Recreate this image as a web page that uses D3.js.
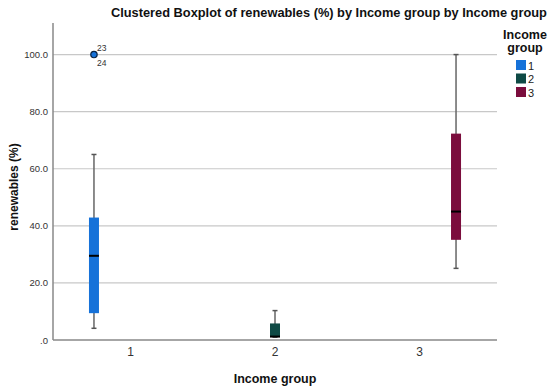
<!DOCTYPE html>
<html><head><meta charset="utf-8">
<script src="https://cdn.jsdelivr.net/npm/d3@7"></script>
<style>body{margin:0;background:#fff}svg{display:block;font-family:"Liberation Sans",Arial,sans-serif}</style>
</head><body><svg id="c" width="550" height="391"></svg>
<script>
const categories = ["1","2","3"];
const groups = ["1","2","3"];
const colors = ["#1672d9","#0f4a45","#7b0d3d"];
const boxCategory = ["1","2","3"];
const boxGroup = ["1","2","3"];
const whiskerLow = [4.1, 1.0, 25.1];
const q1 = [9.4, 1.2, 35.1];
const median = [29.5, 1.2, 45.0];
const q3 = [42.9, 5.8, 72.3];
const whiskerHigh = [65.0, 10.3, 100.0];
const outlierCategory = ["1"];
const outlierGroup = ["1"];
const outlierValue = [100.0];
const outlierLabels = [["23","24"]];
const yTicks = [0,20,40,60,80,100];

const svg = d3.select("#c");
const L=53, R=497, T=23, B=340;
const y = d3.scaleLinear().domain([0,100.2]).range([B, 54]);
const x = d3.scaleBand().domain(categories).range([L,R]).paddingOuter(0.036).paddingInner(0);
const xs = d3.scalePoint().domain(groups).range([0,x.bandwidth()]).padding(0.98);
const bw = 10;

svg.append("g").selectAll("line").data(yTicks.filter(d=>d>0)).join("line")
  .attr("x1",L).attr("x2",R).attr("y1",d=>y(d)).attr("y2",d=>y(d))
  .attr("stroke","#c8c8c8").attr("stroke-width",1.2);

const ya = d3.axisLeft(y).tickValues(yTicks).tickSize(0).tickPadding(5)
  .tickFormat(d=> d===0 ? ".0" : d3.format(".1f")(d));
const gy = svg.append("g").attr("transform",`translate(${L},0)`).call(ya);
gy.select(".domain").remove();
gy.selectAll("text").attr("font-size",9.5).attr("fill","#333");
svg.append("line").attr("x1",L).attr("x2",L).attr("y1",T).attr("y2",B).attr("stroke","#888").attr("stroke-width",1.5);

const xa = d3.axisBottom(x).tickSize(0).tickPadding(7);
const gx = svg.append("g").attr("transform",`translate(0,${B})`).call(xa);
gx.select(".domain").remove();
gx.selectAll("text").attr("font-size",12).attr("fill","#333");
svg.append("line").attr("x1",L).attr("x2",R).attr("y1",B).attr("y2",B).attr("stroke","#888").attr("stroke-width",1.5);

const boxes = boxCategory.map((c,i)=>({c, g:boxGroup[i], lo:whiskerLow[i], q1:q1[i], med:median[i], q3:q3[i], hi:whiskerHigh[i]}));
const bg = svg.append("g").selectAll("g").data(boxes).join("g")
  .attr("transform",d=>`translate(${x(d.c)+xs(d.g)},0)`);
bg.append("line").attr("x1",0).attr("x2",0).attr("y1",d=>y(d.lo)).attr("y2",d=>y(d.hi))
  .attr("stroke","#666").attr("stroke-width",1.5);
bg.append("line").attr("x1",-2.5).attr("x2",2.5).attr("y1",d=>y(d.hi)).attr("y2",d=>y(d.hi)).attr("stroke","#555").attr("stroke-width",1.5);
bg.append("line").attr("x1",-2.5).attr("x2",2.5).attr("y1",d=>y(d.lo)).attr("y2",d=>y(d.lo)).attr("stroke","#555").attr("stroke-width",1.5);
bg.append("rect").attr("x",-bw/2).attr("width",bw).attr("y",d=>y(d.q3)).attr("height",d=>y(d.q1)-y(d.q3))
  .attr("fill",d=>colors[groups.indexOf(d.g)]);
bg.append("line").attr("x1",-bw/2).attr("x2",bw/2).attr("y1",d=>y(d.med)).attr("y2",d=>y(d.med)).attr("stroke","#000").attr("stroke-width",2);

const outs = outlierCategory.map((c,i)=>({c,g:outlierGroup[i],v:outlierValue[i],lab:outlierLabels[i]}));
const og = svg.append("g").selectAll("g").data(outs).join("g")
  .attr("transform",d=>`translate(${x(d.c)+xs(d.g)},${y(d.v)})`);
og.append("circle").attr("r",3.2).attr("fill",d=>colors[groups.indexOf(d.g)]).attr("stroke","#0b2340").attr("stroke-width",1.2);
og.append("text").attr("x",3).attr("y",-4).attr("font-size",8.5).attr("fill","#333").text(d=>d.lab[0]);
og.append("text").attr("x",3).attr("y",11).attr("font-size",8.5).attr("fill","#333").text(d=>d.lab[1]);

svg.append("text").attr("x",111).attr("y",17).attr("font-size",12.8).attr("font-weight","bold").attr("fill","#111")
  .text("Clustered Boxplot of renewables (%) by Income group by Income group");
svg.append("text").attr("transform","translate(18,187) rotate(-90)").attr("text-anchor","middle")
  .attr("font-size",12).attr("font-weight","bold").attr("fill","#111").text("renewables (%)");
svg.append("text").attr("x",275).attr("y",383).attr("text-anchor","middle")
  .attr("font-size",12.5).attr("font-weight","bold").attr("fill","#111").text("Income group");

svg.append("text").attr("x",525).attr("y",39).attr("text-anchor","middle").attr("font-size",12.5).attr("font-weight","bold").attr("fill","#111").text("Income");
svg.append("text").attr("x",525).attr("y",52).attr("text-anchor","middle").attr("font-size",12.5).attr("font-weight","bold").attr("fill","#111").text("group");
const lg = svg.append("g").selectAll("g").data(groups).join("g").attr("transform",(d,i)=>`translate(516,${60+i*13.5})`);
lg.append("rect").attr("width",10).attr("height",10).attr("fill",(d,i)=>colors[i]);
lg.append("text").attr("x",12).attr("y",9.5).attr("font-size",11).attr("fill","#222").text(d=>d);
</script></body></html>
